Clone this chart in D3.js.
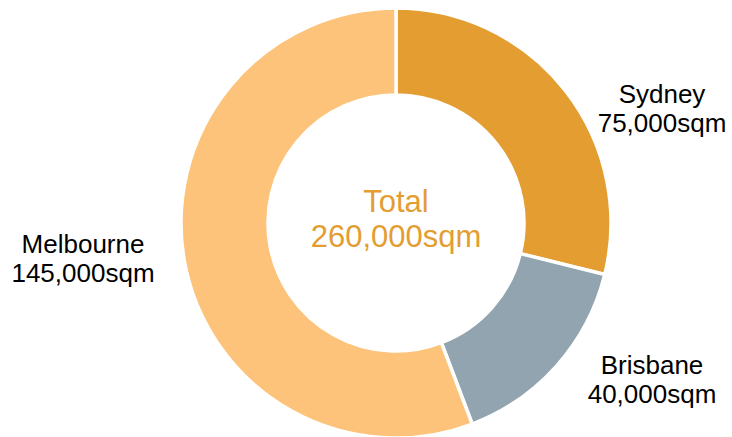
<!DOCTYPE html>
<html>
<head>
<meta charset="utf-8">
<script src="https://cdn.jsdelivr.net/npm/d3@7"></script>
<style>
  html, body { margin: 0; padding: 0; background: #fff; }
  svg { display: block; font-family: "Liberation Sans", Arial, sans-serif; }
</style>
</head>
<body>
<svg id="chart" width="732" height="437"></svg>
<script>
// floor space by city (sqm)
const cities = ["Sydney", "Brisbane", "Melbourne"];
const areas = [75000, 40000, 145000];
const colours = ["#E39D31", "#91A4AF", "#FDC37A"];

const width = 732, height = 437;
const cx = 396, cy = 223;
const outerR = 215, innerR = 128;

// hand placed label spots, as in the source chart (x centre, first baseline)
const labelSpots = {
  Sydney: [662, 103],
  Brisbane: [652, 374],
  Melbourne: [83, 253]
};
const lineGap = 28.5;

const data = cities.map((c, i) => ({ city: c, value: areas[i] }));
const total = d3.sum(areas);
const fmt = d3.format(",");

let svg = d3.select("#chart");
let g = svg.append("g").attr("transform", `translate(${cx},${cy})`);

const color = d3.scaleOrdinal().domain(cities).range(colours);

const pie = d3.pie().value(d => d.value).sort(null);
const arc = d3.arc().innerRadius(innerR).outerRadius(outerR);

g.selectAll("path")
  .data(pie(data))
  .join("path")
  .attr("d", arc)
  .attr("fill", d => color(d.data.city))
  .attr("stroke", "#fff")
  .attr("stroke-width", 3.5)
  .attr("stroke-linejoin", "miter");

// centre total
let totalText = g.append("text")
  .attr("text-anchor", "middle")
  .attr("fill", "#E39D31")
  .attr("font-size", 31);
totalText.append("tspan").attr("x", 0).attr("y", -11).text("Total");
totalText.append("tspan").attr("x", 0).attr("y", 24).text(fmt(total) + "sqm");

// outside labels
data.forEach(d => {
  let [x, y] = labelSpots[d.city];
  let t = svg.append("text")
    .attr("text-anchor", "middle")
    .attr("fill", "#000")
    .attr("font-size", 26);
  t.append("tspan").attr("x", x).attr("y", y).text(d.city);
  t.append("tspan").attr("x", x).attr("y", y + lineGap).text(fmt(d.value) + "sqm");
});
</script>
</body>
</html>
